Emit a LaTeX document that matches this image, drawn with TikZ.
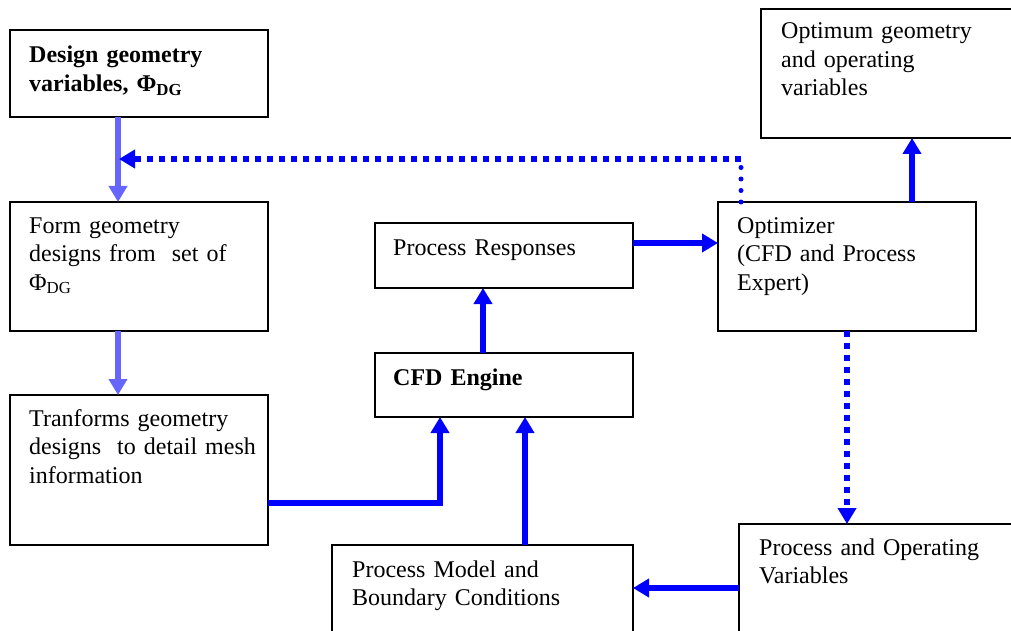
\documentclass[tikz,border=0pt]{standalone}
\usepackage{fontspec}
\setmainfont{Liberation Serif}
\usetikzlibrary{arrows.meta}
\definecolor{lblue}{RGB}{102,102,255}
\tikzset{
  box/.style={draw=black, line width=2pt, inner sep=0pt, outer sep=0pt, anchor=north west},
  txt/.style={inner sep=0pt, anchor=base west, text width=320pt, align=left, font=\fontsize{24}{28.5}\selectfont},
  tip/.style={-{Triangle[width=18pt,length=16pt]}},
  barrow/.style={draw=blue, line width=6pt, tip},
  larrow/.style={draw=lblue, line width=5.5pt, tip},
  sqdots/.style={draw=blue, line width=6pt, dash pattern=on 6pt off 6pt},
  rdots/.style={draw=blue, line width=5pt, line cap=round, dash pattern=on 0pt off 11.5pt},
}
\begin{document}
\begin{tikzpicture}[x=1pt,y=-1pt]
\useasboundingbox (0,0) rectangle (1011,631);
\clip (0,0) rectangle (1011,631);
% boxes
\node[box, minimum width=258pt, minimum height=87pt]  (d1)   at (10,30)  {};
\node[box, minimum width=258pt, minimum height=129pt] (form) at (10,202) {};
\node[box, minimum width=258pt, minimum height=150pt] (trans) at (10,395) {};
\node[box, minimum width=258pt, minimum height=65pt]  (pr)   at (375,223) {};
\node[box, minimum width=258pt, minimum height=64pt]  (cfd)  at (375,353) {};
\node[box, minimum width=301pt, minimum height=110pt] (pm)   at (332,545) {};
\node[box, minimum width=258pt, minimum height=129pt] (opt)  at (718,202) {};
\node[box, minimum width=262pt, minimum height=129pt] (optimum) at (761,9) {};
\node[box, minimum width=290pt, minimum height=130pt] (po)   at (739,524) {};
% texts
\node[txt] (td1) at (29,63) {\bfseries Design geometry\\variables, Φ\textsubscript{DG}};
\node[txt] (tform) at (29,233) {Form geometry\\designs from\ \ set of\\Φ\textsubscript{DG}};
\node[txt] (ttrans) at (29,426) {Tranforms geometry\\designs\ \ to detail mesh\\information};
\node[txt] (tpr) at (393,255) {Process Responses};
\node[txt] (tcfd) at (393,385) {\bfseries CFD Engine};
\node[txt] (tpm) at (352,577) {Process Model and\\Boundary Conditions};
\node[txt] (topt) at (737,233) {Optimizer\\(CFD and Process\\Expert)};
\node[txt] (toptimum) at (781,39) {Optimum geometry\\and operating\\variables};
\node[txt] (tpo) at (759,555) {Process and Operating\\Variables};
% connector helpers
\coordinate (c1) at (118,0);
\coordinate (hit) at (119,159);
\coordinate (corner) at (741,159);
\coordinate (h1) at (440,503);
\coordinate (v2) at (525,0);
\coordinate (v3) at (483,0);
\coordinate (h4) at (0,243);
\coordinate (v5) at (912,0);
\coordinate (v6) at (847,0);
\coordinate (h7) at (0,588);
% connectors
\draw[larrow] (d1.south -| c1) -- (form.north -| c1);
\draw[larrow] (form.south -| c1) -- (trans.north -| c1);
\draw[rdots] (opt.north -| corner) -- (corner);
\draw[sqdots, tip] (corner) -- (hit);
\draw[barrow] (trans.east |- h1) -- (h1) -- (cfd.south -| h1);
\draw[barrow] (pm.north -| v2) -- (cfd.south -| v2);
\draw[barrow] (cfd.north -| v3) -- (pr.south -| v3);
\draw[barrow] (pr.east |- h4) -- (opt.west |- h4);
\draw[barrow] (opt.north -| v5) -- (optimum.south -| v5);
\draw[sqdots, tip] (opt.south -| v6) -- (po.north -| v6);
\draw[barrow] (po.west |- h7) -- (pm.east |- h7);
\end{tikzpicture}
\end{document}
